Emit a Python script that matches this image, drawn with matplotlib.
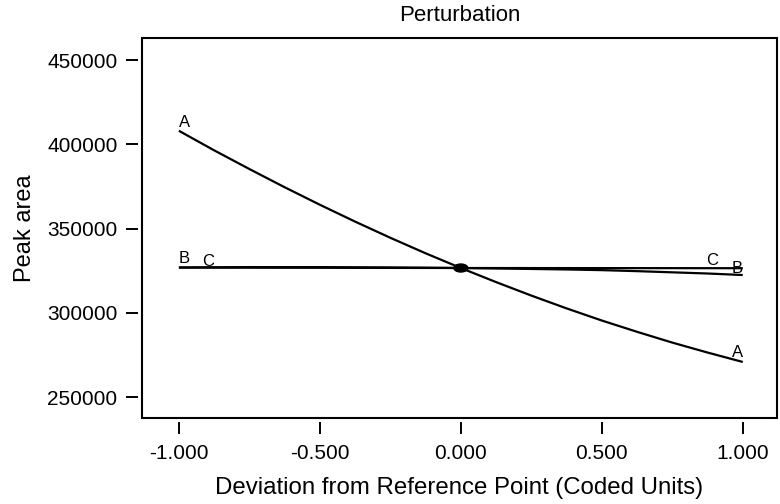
import numpy as np
import matplotlib
matplotlib.use("Agg")
import matplotlib.pyplot as plt
from matplotlib.patches import Rectangle, Ellipse

plt.rcParams['font.family'] = ['Liberation Sans', 'DejaVu Sans']

# Data
deviation = [-1.0, -0.875, -0.75, -0.625, -0.5, -0.375, -0.25, -0.125, 0.0,
             0.125, 0.25, 0.375, 0.5, 0.625, 0.75, 0.875, 1.0]
series_A = [408000, 396400, 385300, 374500, 364100, 354100, 344500, 335300, 326560,
            318200, 310200, 302600, 295400, 288700, 282300, 276400, 270800]
series_B = [326900, 327000, 327100, 327100, 327100, 327000, 326900, 326750, 326560,
            326300, 326000, 325700, 325300, 324700, 324000, 323300, 322400]
series_C = [326800, 326780, 326750, 326720, 326700, 326660, 326630, 326600, 326560,
            326540, 326530, 326510, 326500, 326490, 326480, 326460, 326450]
series_names = ["A", "B", "C"]
x_ticks = [-1.0, -0.5, 0.0, 0.5, 1.0]
x_ticklabels = ["-1.000", "-0.500", "0.000", "0.500", "1.000"]
y_ticks = [250000, 300000, 350000, 400000, 450000]
ref_point = (0.0, 326560)

fig = plt.figure(figsize=(7.8, 5.04), dpi=100)
ax = fig.add_axes([0.182, 0.1706, 0.814, 0.754])

lw = 1.6
for y in (series_A, series_B, series_C):
    ax.plot(deviation, y, color='black', lw=lw, solid_capstyle='butt',
            solid_joinstyle='round')

ax.add_patch(Ellipse(ref_point, width=14 / 282, height=8 / 84.25 * 50000,
                     color='black', zorder=5))

def lab(text, x, y, dx, dy, ha):
    ax.annotate(text, (x, y), xytext=(dx * 0.72, dy * 0.72), textcoords='offset points',
                ha=ha, va='baseline', fontsize=12, color='black')

lab("A", deviation[0], series_A[0], 0, 4, 'left')
lab("B", deviation[0], series_B[0], 0, 4.5, 'left')
lab("C", deviation[0], series_C[0], 23, 1.5, 'left')
lab("C", deviation[-1], series_C[-1], -25, 3.5, 'right')
lab("B", deviation[-1], series_B[-1], 0, 2.5, 'right')
lab("A", deviation[-1], series_A[-1], 0, 5, 'right')

ax.set_xlim(-1.131, 1.121)
ax.set_ylim(237540, 463060)
ax.set_xticks(x_ticks)
ax.set_xticklabels(x_ticklabels)
ax.set_yticks(y_ticks)
ax.set_yticklabels([str(v) for v in y_ticks])

for s in ax.spines.values():
    s.set_visible(False)
ax.spines['left'].set_position(('outward', 3))
ax.spines['bottom'].set_position(('outward', 3))
ax.add_patch(Rectangle((0, 0), 1, 1, transform=ax.transAxes, fill=False,
                       lw=1.5, ec='black', clip_on=False, zorder=6))

ax.tick_params(axis='both', direction='out', length=8.6, width=1.4, labelsize=15,
               pad=6, color='black')
ax.tick_params(axis='x', pad=7)

ax.set_xlabel("Deviation from Reference Point (Coded Units)", fontsize=17.3, labelpad=10)
ax.set_ylabel("Peak area", fontsize=17, labelpad=8)
ax.set_title("Perturbation", fontsize=16, pad=12)

fig.savefig("out.png", dpi=100)
